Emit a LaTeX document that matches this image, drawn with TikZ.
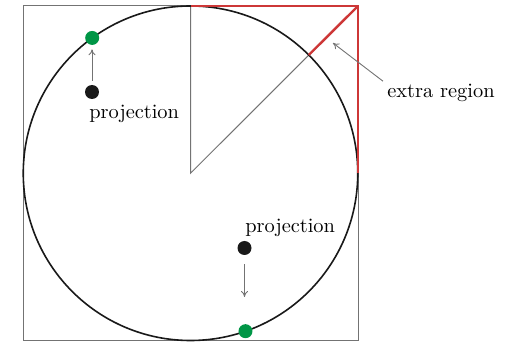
\documentclass[tikz,border=0pt]{standalone}
\usetikzlibrary{arrows.meta,calc}
\definecolor{gframe}{RGB}{115,115,115}
\definecolor{rline}{RGB}{205,55,55}
\definecolor{gdot}{RGB}{0,150,70}
\begin{document}
\begin{tikzpicture}[x=0.5pt,y=-0.5pt,
  thinline/.style={draw=gframe,line width=0.5pt},
  redline/.style={draw=rline,line width=0.9pt},
  blackdot/.style={circle,fill=black!90,inner sep=0pt,minimum size=7pt},
  greendot/.style={circle,fill=gdot,inner sep=0pt,minimum size=7pt},
  projarrow/.style={draw=gframe,line width=0.45pt,-{To[length=3pt,width=3.5pt]}},
  lbl/.style={inner sep=0pt,font=\fontsize{10.2}{12}\selectfont}]
\useasboundingbox (0,0) rectangle (510,342);
% frame and geometry
\coordinate (C) at (190.5,173.25);
\coordinate (TL) at (23,6);
\coordinate (BR) at (358,340.5);
\coordinate (TR) at (358,6);
\coordinate (TM) at (190.5,6);
\coordinate (RM) at (358,173.25);
\coordinate (X) at ($(C)+(45:83.625pt)$);
\draw[thinline] (TL) rectangle (BR);
\draw[thinline] (TM) -- (C) -- (TR);
\draw[black!90,line width=0.8pt] (C) circle[radius=83.625pt];
\draw[redline] (TM) -- (TR) -- (RM);
\draw[redline,line width=1.2pt] (X) -- (TR);
% dots
\node[greendot] (g1) at ($(C)+(126:83.625pt)$) {};
\node[greendot] (g2) at ($(C)+(-70.8:83.625pt)$) {};
\node[blackdot] (b1) at (92,92) {};
\node[blackdot] (b2) at (244.5,248) {};
\draw[projarrow,shorten <=2pt,shorten >=2pt] (b1) -- (b1 |- g1.south);
\coordinate (b2end) at (244.5,297);
\draw[projarrow,shorten <=4.5pt] (b2) -- (b2end);
% labels
\node[lbl,anchor=base west] (p1) at (89,119) {projection};
\node[lbl,anchor=base west] (p2) at (245,233) {projection};
\node[lbl,anchor=base west] (er) at (387,98) {extra region};
\coordinate (ertip) at (333,43);
\draw[projarrow] ($(er.north west)+(-2pt,1.5pt)$) -- (ertip);
\end{tikzpicture}
\end{document}
